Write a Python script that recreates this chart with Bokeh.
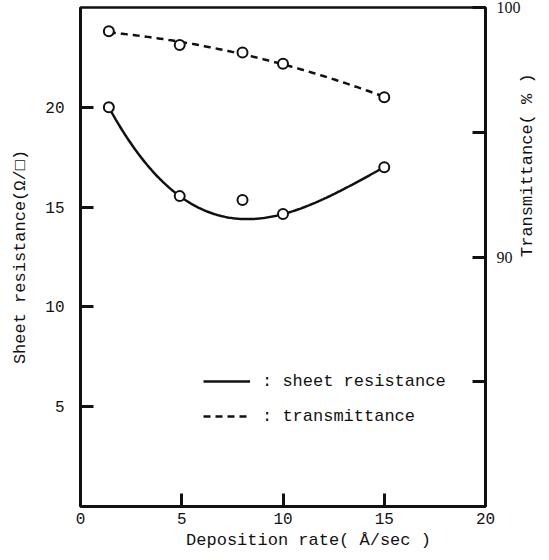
import math
import numpy as np
from bokeh.plotting import figure
from bokeh.models import Range1d, LinearAxis, FixedTicker, Legend, LegendItem
from bokeh.embed import file_html
from bokeh.resources import INLINE

# Measured data: deposition rate (Å/sec) vs. sheet resistance and transmittance
rate = [1.4, 4.9, 8.0, 10.0, 15.0]
sheet_resistance = [20.0, 15.55, 15.35, 14.65, 17.0]
transmittance = [99.05, 98.5, 98.2, 97.75, 96.4]

# the sheet-resistance trend curve runs through these measurements (the 8 Å/sec one sits above it)
rs_curve_idx = [0, 1, 3, 4]

x_ticks = [0, 5, 10, 15, 20]
left_ticks = [5, 10, 15, 20]
right_ticks = [80, 85, 90, 95, 100]
right_tick_labels = {80: "", 85: "", 90: "90", 95: "", 100: "100"}

MONO = "Liberation Mono"
SERIF = "Liberation Serif"
INK = "#111111"
NBSP = "\u00a0"

p = figure(width=549, height=560, output_backend="svg", toolbar_location=None,
           x_range=Range1d(0, 20), y_range=Range1d(0, 25),
           min_border_left=80, min_border_right=64,
           min_border_top=7, min_border_bottom=54)
p.extra_y_ranges = {"trans": Range1d(80, 100)}
p.grid.visible = False
p.outline_line_color = INK
p.outline_line_width = 2.5
p.background_fill_color = "white"

# Smooth trend curves fitted to the measurements
xs = np.linspace(rate[0], rate[-1], 200)
rs_x = [rate[i] for i in rs_curve_idx]
rs_y = [sheet_resistance[i] for i in rs_curve_idx]
rs_fit = np.polyval(np.polyfit(rs_x, rs_y, 3), xs)
tr_fit = np.polyval(np.polyfit(rate, transmittance, 2), xs)

rs_line = p.line(xs, rs_fit, line_color=INK, line_width=2.5)
tr_line = p.line(xs, tr_fit, line_color=INK, line_width=2.5, line_dash="7 5",
                 y_range_name="trans")

p.scatter(rate, sheet_resistance, marker="circle", size=10, fill_color="white",
          line_color=INK, line_width=2)
p.scatter(rate, transmittance, marker="circle", size=10, fill_color="white",
          line_color=INK, line_width=2, y_range_name="trans")


def style_axis(ax, font, standoff):
    ax.axis_line_color = INK
    ax.axis_line_width = 3
    ax.major_tick_line_color = INK
    ax.major_tick_line_width = 3
    ax.major_tick_in = 13
    ax.major_tick_out = 0
    ax.minor_tick_line_color = None
    ax.major_label_text_font = font
    ax.major_label_text_font_size = "16px"
    ax.major_label_text_color = INK
    ax.major_label_standoff = standoff
    ax.axis_label_text_font = MONO
    ax.axis_label_text_font_size = "17px"
    ax.axis_label_text_font_style = "normal"
    ax.axis_label_text_color = INK


xaxis = p.xaxis[0]
xaxis.ticker = FixedTicker(ticks=x_ticks)
style_axis(xaxis, MONO, 6)
xaxis.axis_label = NBSP * 5 + "Deposition rate( Å/sec )"
xaxis.axis_label_standoff = 4

yaxis = p.yaxis[0]
yaxis.ticker = FixedTicker(ticks=left_ticks)
style_axis(yaxis, MONO, 16)
yaxis.axis_label = "Sheet resistance(Ω/□)"
yaxis.axis_label_standoff = 12

raxis = LinearAxis(y_range_name="trans", ticker=FixedTicker(ticks=right_ticks),
                   major_label_overrides=right_tick_labels)
style_axis(raxis, SERIF, 11)
raxis.axis_label = "Transmittance( % )" + NBSP * 2
raxis.axis_label_standoff = 4
raxis.axis_label_text_baseline = "top"
if "axis_label_orientation" in raxis.properties():
    raxis.axis_label_orientation = math.pi / 2
p.add_layout(raxis, "right")

legend = Legend(items=[LegendItem(label=": sheet resistance", renderers=[rs_line]),
                       LegendItem(label=": transmittance", renderers=[tr_line])],
                location=(123, 80), glyph_width=47, glyph_height=20,
                label_height=20, spacing=15, padding=0, margin=0,
                label_standoff=12, label_text_font=MONO,
                label_text_font_size="17px", label_text_color=INK,
                background_fill_alpha=0, border_line_alpha=0)
p.add_layout(legend)

open("out.html", "w").write(file_html(p, INLINE))
